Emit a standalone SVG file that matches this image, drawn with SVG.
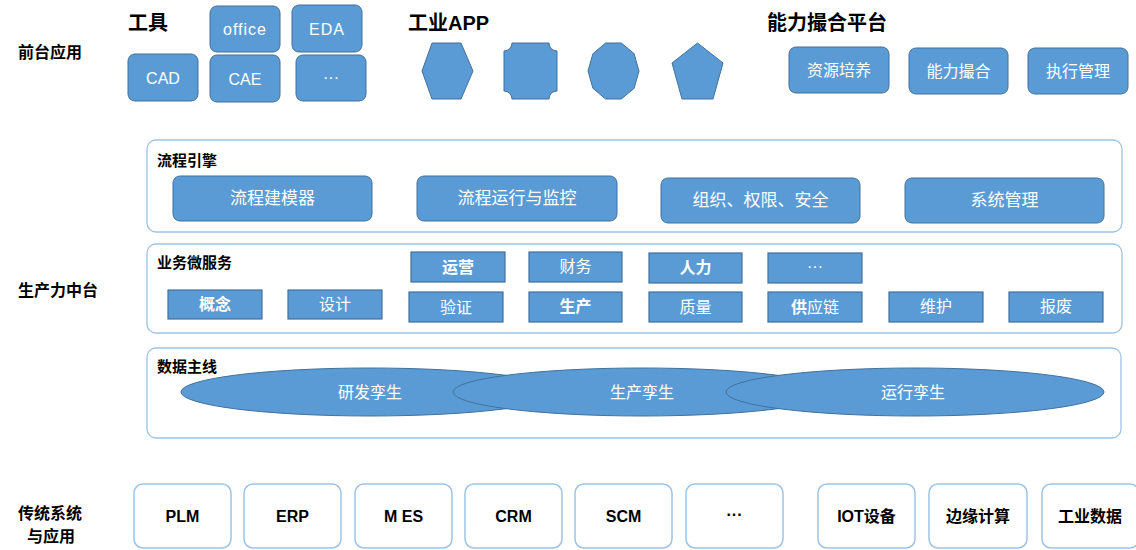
<svg xmlns="http://www.w3.org/2000/svg" width="1136" height="550" viewBox="0 0 1136 550">
<style>
text{font-family:"Liberation Sans","Noto Sans CJK SC",sans-serif;}
.side{font-size:16px;font-weight:bold;fill:#000;}
.title{font-size:20px;font-weight:bold;fill:#000;}
.sub{font-size:15px;font-weight:bold;fill:#000;}
.node{fill:#5B9BD5;stroke:#41719C;stroke-width:1;}
.ms{fill:#5B9BD5;stroke:#41719C;stroke-width:1.2;}
.wt{font-size:16px;fill:#FFFFFF;text-anchor:middle;dominant-baseline:central;}
.wt17{font-size:17px;fill:#FFFFFF;text-anchor:middle;dominant-baseline:central;}
.cont{fill:#FFFFFF;stroke:#9DC3E6;stroke-width:1.3;}
.leg{fill:#FFFFFF;stroke:#9DC3E6;stroke-width:1.5;}
.bt{font-size:16px;font-weight:bold;fill:#000;text-anchor:middle;dominant-baseline:central;}
</style>
<rect width="1136" height="550" fill="#FFFFFF"/>

<g id="side-labels">
<text class="side" x="18" y="58">前台应用</text>
<text class="side" x="18" y="296">生产力中台</text>
<text class="side" x="18" y="519">传统系统</text>
<text class="side" x="27" y="542">与应用</text>
</g>

<g id="tools">
<text class="title" x="128" y="30">工具</text>
<g id="n-office"><rect class="node" x="210" y="6" width="70" height="46" rx="7"/><text class="wt" x="245" y="29" letter-spacing="1">office</text></g>
<g id="n-eda"><rect class="node" x="292" y="5" width="70" height="47" rx="7"/><text class="wt" x="327" y="29" letter-spacing="1">EDA</text></g>
<g id="n-cad"><rect class="node" x="128" y="54" width="70" height="47" rx="7"/><text class="wt" x="163" y="78">CAD</text></g>
<g id="n-cae"><rect class="node" x="210" y="55" width="70" height="47" rx="7"/><text class="wt" x="245" y="79">CAE</text></g>
<g id="n-more1"><rect class="node" x="296" y="55" width="70" height="46" rx="7"/><text class="wt" x="331" y="77">···</text></g>
</g>

<g id="apps">
<text class="title" x="408" y="30">工业APP</text>
<g id="n-hex"><polygon class="node" points="432,43 461,43 473,71 461,99 432,99 422,71"/></g>
<g id="n-plaque"><path class="node" d="M512,43 L549,43 A8,8 0 0 0 557,51 L557,91 A8,8 0 0 0 549,99 L512,99 A8,8 0 0 0 504,91 L504,51 A8,8 0 0 0 512,43 Z"/></g>
<g id="n-decagon"><polygon class="node" points="605.6,43 621.4,43 634.1,53.7 639,71 634.1,88.3 621.4,99 605.6,99 592.9,88.3 588,71 592.9,53.7"/></g>
<g id="n-pentagon"><polygon class="node" points="697.5,43 723,63 713,99 682,99 672,63"/></g>
</g>

<g id="platform">
<text class="title" x="767" y="30">能力撮合平台</text>
<g id="n-res"><rect class="node" x="789" y="47" width="100" height="46" rx="7"/><text class="wt" x="839" y="70" fill="#EEF3FA">资源培养</text></g>
<g id="n-match"><rect class="node" x="909" y="48" width="99" height="46" rx="7"/><text class="wt" x="958.5" y="71">能力撮合</text></g>
<g id="n-exec"><rect class="node" x="1028" y="48" width="100" height="46" rx="7"/><text class="wt" x="1078" y="71">执行管理</text></g>
</g>

<g id="process-engine">
<rect class="cont" x="147" y="140" width="975" height="92" rx="9"/>
<text class="sub" x="157" y="166">流程引擎</text>
<g id="n-model"><rect class="node" x="173" y="176" width="199" height="45" rx="7"/><text class="wt17" x="272.5" y="198">流程建模器</text></g>
<g id="n-run"><rect class="node" x="417" y="176" width="200" height="45" rx="7"/><text class="wt17" x="517" y="198">流程运行与监控</text></g>
<g id="n-org"><rect class="node" x="661" y="178" width="199" height="45" rx="7"/><text class="wt17" x="760.5" y="200">组织、权限、安全</text></g>
<g id="n-sys"><rect class="node" x="905" y="178" width="199" height="45" rx="7"/><text class="wt17" x="1004.5" y="200">系统管理</text></g>
</g>

<g id="microservices">
<rect class="cont" x="147" y="244" width="975" height="89" rx="9"/>
<text class="sub" x="157" y="268">业务微服务</text>
<g id="n-ops"><rect class="ms" x="411" y="252" width="94" height="30"/><text class="wt" x="458" y="267" font-weight="bold">运营</text></g>
<g id="n-fin"><rect class="ms" x="529" y="252" width="93" height="30"/><text class="wt" x="575.5" y="266">财务</text></g>
<g id="n-hr"><rect class="ms" x="649" y="253" width="93" height="30"/><text class="wt" x="695.5" y="267" font-weight="bold">人力</text></g>
<g id="n-more2"><rect class="ms" x="768" y="253" width="94" height="30"/><text class="wt" x="815" y="266">···</text></g>
<g id="n-concept"><rect class="ms" x="168" y="290" width="94" height="29"/><text class="wt" x="215" y="304" font-weight="bold">概念</text></g>
<g id="n-design"><rect class="ms" x="288" y="290" width="94" height="29"/><text class="wt" x="335" y="304">设计</text></g>
<g id="n-verify"><rect class="ms" x="409" y="292" width="94" height="30"/><text class="wt" x="456" y="307">验证</text></g>
<g id="n-prod"><rect class="ms" x="529" y="292" width="93" height="30"/><text class="wt" x="575.5" y="306" font-weight="bold">生产</text></g>
<g id="n-quality"><rect class="ms" x="649" y="292" width="93" height="30"/><text class="wt" x="695.5" y="307">质量</text></g>
<g id="n-supply"><rect class="ms" x="768" y="292" width="94" height="30"/><text class="wt" x="815" y="307"><tspan font-weight="bold">供</tspan>应链</text></g>
<g id="n-maint"><rect class="ms" x="889" y="292" width="94" height="30"/><text class="wt" x="936" y="306">维护</text></g>
<g id="n-scrap"><rect class="ms" x="1009" y="292" width="94" height="30"/><text class="wt" x="1056" y="306">报废</text></g>
</g>

<g id="data-thread">
<rect class="cont" x="147" y="348" width="974" height="90" rx="9"/>
<g id="n-rd"><ellipse class="node" cx="370" cy="392" rx="189" ry="24"/><text class="wt" x="370" y="392">研发孪生</text></g>
<g id="n-prodtwin"><ellipse class="node" cx="642" cy="392" rx="189" ry="24"/><text class="wt" x="642" y="392">生产孪生</text></g>
<g id="n-optwin"><ellipse class="node" cx="915" cy="392" rx="189" ry="24"/><text class="wt" x="913" y="392">运行孪生</text></g>
<text class="sub" x="157" y="372">数据主线</text>
</g>

<g id="legacy">
<g id="n-plm"><rect class="leg" x="134" y="484" width="97" height="64" rx="9"/><text class="bt" x="182.5" y="516">PLM</text></g>
<g id="n-erp"><rect class="leg" x="244" y="484" width="97" height="64" rx="9"/><text class="bt" x="292.5" y="516">ERP</text></g>
<g id="n-mes"><rect class="leg" x="355" y="484" width="97" height="64" rx="9"/><text class="bt" x="403.5" y="516">M ES</text></g>
<g id="n-crm"><rect class="leg" x="465" y="484" width="97" height="64" rx="9"/><text class="bt" x="513.5" y="516">CRM</text></g>
<g id="n-scm"><rect class="leg" x="575" y="484" width="97" height="64" rx="9"/><text class="bt" x="623.5" y="516">SCM</text></g>
<g id="n-more3"><rect class="leg" x="686" y="484" width="97" height="64" rx="9"/><text class="bt" x="734.5" y="514">···</text></g>
<g id="n-iot"><rect class="leg" x="818" y="484" width="97" height="64" rx="9"/><text class="bt" x="866.5" y="516">IOT设备</text></g>
<g id="n-edge"><rect class="leg" x="929" y="484" width="98" height="64" rx="9"/><text class="bt" x="978" y="516">边缘计算</text></g>
<g id="n-ind"><rect class="leg" x="1042" y="484" width="97" height="64" rx="9"/><text class="bt" x="1090" y="516">工业数据</text></g>
</g>

<g id="connectors"></g>
</svg>
